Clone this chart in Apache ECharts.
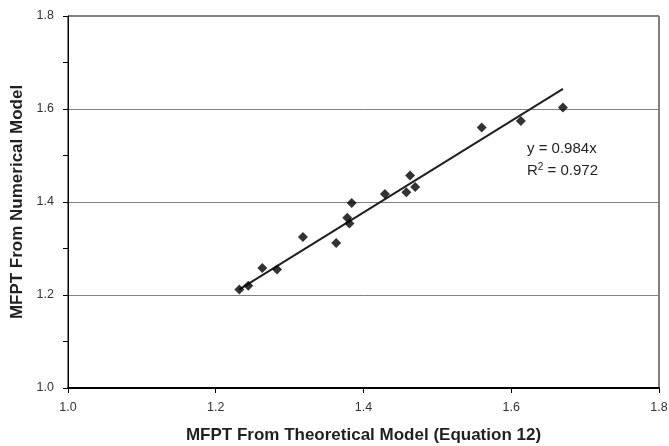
<!DOCTYPE html>
<html><head><meta charset="utf-8">
<script src="https://cdn.jsdelivr.net/npm/echarts@6/dist/echarts.min.js"></script>
<style>html,body{margin:0;padding:0;background:#fff}#c{width:669px;height:446px}</style>
</head><body><div id="c"></div>
<script>
const theoretical = [1.232,1.244,1.263,1.283,1.318,1.363,1.378,1.381,1.384,1.429,1.458,1.463,1.470,1.560,1.613,1.670];
const numerical   = [1.212,1.220,1.258,1.255,1.325,1.312,1.366,1.354,1.398,1.417,1.421,1.457,1.432,1.560,1.574,1.603];
const slope = 0.984;
const r2 = 0.972;
const xTitle = 'MFPT From Theoretical Model (Equation 12)';
const yTitle = 'MFPT From Numerical Model';

const pts = theoretical.map((x,i)=>[x, numerical[i]]);
const xmin = Math.min(...theoretical), xmax = Math.max(...theoretical);
const trend = [[xmin, slope*xmin],[xmax, slope*xmax]];

const chart = echarts.init(document.getElementById('c'), null, {renderer:'canvas'});
chart.setOption({
  animation:false,
  grid:{left:68,right:10,top:16,bottom:58,show:true,borderColor:'#000',borderWidth:1,
    outerBoundsMode:'none',containLabel:false},
  xAxis:{type:'value',min:1.0,max:1.8,interval:0.2,
    name:xTitle,nameLocation:'middle',nameGap:39,
    nameTextStyle:{fontFamily:'Liberation Sans',fontWeight:'bold',fontSize:17,color:'#231f20'},
    axisLine:{show:true,lineStyle:{color:'#000',width:2}},
    axisTick:{show:true,length:5,lineStyle:{color:'#000'}},
    axisLabel:{fontFamily:'Liberation Sans',fontSize:12.5,color:'#333',margin:13,formatter:v=>v.toFixed(1)},
    splitLine:{show:false}},
  yAxis:{type:'value',min:1.0,max:1.8,interval:0.2,
    name:yTitle,nameLocation:'middle',nameGap:41,nameRotate:90,
    nameTextStyle:{fontFamily:'Liberation Sans',fontWeight:'bold',fontSize:17,color:'#231f20'},
    axisLine:{show:true,lineStyle:{color:'#000',width:1}},
    axisTick:{show:true,length:5,lineStyle:{color:'#000'}},
    minorTick:{show:true,splitNumber:2,length:5,lineStyle:{color:'#000'}},
    axisLabel:{fontFamily:'Liberation Sans',fontSize:12.5,color:'#333',margin:14,formatter:v=>v.toFixed(1)},
    splitLine:{show:true,lineStyle:{color:'#808080',width:1}}},
  series:[
    {type:'line',data:trend,symbol:'none',lineStyle:{color:'#231f20',width:2},z:2,silent:true},
    {type:'scatter',data:pts,symbol:'diamond',symbolSize:10,itemStyle:{color:'#000'},z:3}
  ],
  graphic:[
    {type:'text',left:527,top:141,style:{text:'y = '+slope.toFixed(3)+'x',font:'15px "Liberation Sans"',fill:'#231f20'}},
    {type:'text',left:527,top:162,style:{text:'R{s|2} = '+r2.toFixed(3),font:'15px "Liberation Sans"',fill:'#231f20',
      rich:{s:{fontSize:10,verticalAlign:'top',padding:[0,0,7,0],fontFamily:'Liberation Sans',fill:'#231f20'}}}}
  ]
});
</script></body></html>
